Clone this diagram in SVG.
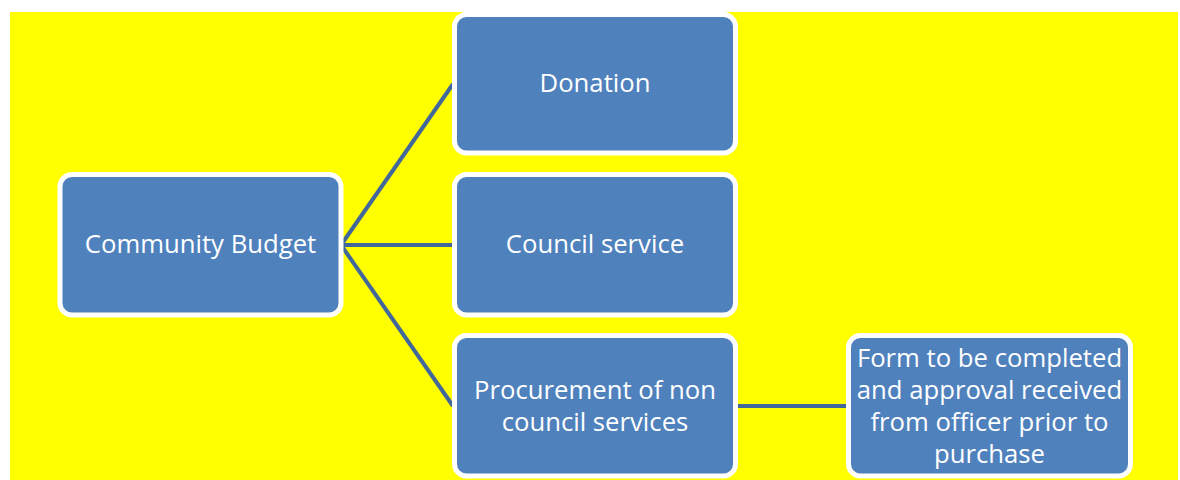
<svg xmlns="http://www.w3.org/2000/svg" width="1180" height="480" viewBox="0 0 1180 480">
<style>
.box{fill:#4f81bd;stroke:#ffffff;stroke-width:5}
.lbl{font-family:"Open Sans","Noto Sans",sans-serif;font-size:25.7px;fill:#ffffff;text-anchor:middle}
.conn{stroke:#41679b;stroke-width:4;fill:none}
</style>
<rect x="0" y="0" width="1180" height="480" fill="#ffffff"/>
<rect x="10" y="12" width="1168" height="468" fill="#ffff00"/>
<g id="connectors">
<line class="conn" x1="341" y1="245" x2="453" y2="84"/>
<line class="conn" x1="341" y1="245" x2="453" y2="245"/>
<line class="conn" x1="341" y1="245" x2="453" y2="406"/>
<line class="conn" x1="737" y1="406" x2="847" y2="406"/>
</g>
<g id="community-budget">
<rect class="box" x="60" y="174.5" width="281" height="140.5" rx="12"/>
<text class="lbl" x="200.5" y="253">Community Budget</text>
</g>
<g id="donation">
<rect class="box" x="454.5" y="14.5" width="281" height="138.5" rx="12"/>
<text class="lbl" x="595" y="92">Donation</text>
</g>
<g id="council-service">
<rect class="box" x="454.5" y="174.5" width="281" height="140.5" rx="12"/>
<text class="lbl" x="595" y="253">Council service</text>
</g>
<g id="procurement">
<rect class="box" x="454.5" y="335.5" width="281" height="140.5" rx="12"/>
<text class="lbl" x="595" y="399">Procurement of non</text>
<text class="lbl" x="595" y="431">council services</text>
</g>
<g id="form">
<rect class="box" x="848.5" y="335.5" width="282" height="140.5" rx="12"/>
<text class="lbl" x="989.5" y="367">Form to be completed</text>
<text class="lbl" x="989.5" y="399">and approval received</text>
<text class="lbl" x="989.5" y="431">from officer prior to</text>
<text class="lbl" x="989.5" y="463">purchase</text>
</g>
</svg>
